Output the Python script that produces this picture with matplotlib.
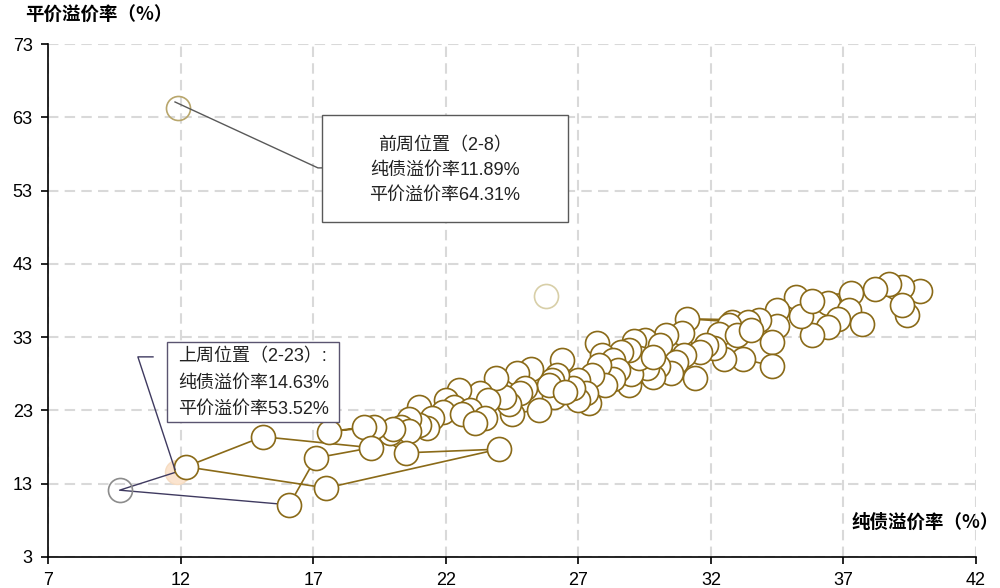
import matplotlib
matplotlib.use('Agg')
import matplotlib.pyplot as plt
from matplotlib.patches import Rectangle

plt.rcParams['font.family'] = ['Liberation Sans', 'Noto Sans CJK SC', 'DejaVu Sans']

# time path of (pure bond premium, parity premium), oldest -> newest
bond_prem = [39.9, 39.2, 38.7, 39.4, 39.2, 38.2, 37.3, 35.2, 36.4, 37.2,
             37.7, 36.8, 36.4, 35.8, 35.4, 35.8, 34.5, 34.5, 33.8, 31.1,
             32.8, 33.4, 32.7, 32.3, 33.0, 33.5, 34.3, 34.3, 33.2, 32.5,
             32.1, 31.8, 31.6, 30.9, 30.3, 29.5, 29.1, 30.1, 31.0, 30.7,
             31.4, 28.9, 30.5, 30.0, 29.8, 29.6, 29.0, 29.3, 29.8, 28.9,
             28.6, 27.7, 27.9, 28.3, 28.5, 28.3, 27.8, 28.0, 27.5, 27.0,
             27.4, 27.3, 27.0, 26.8, 26.4, 26.2, 26.0, 26.1, 25.9, 26.5,
             25.2, 24.7, 25.0, 24.8, 25.5, 24.5, 24.4, 24.2, 23.9, 23.3,
             23.6, 22.5, 22.0, 22.3, 22.9, 21.9, 22.6, 23.5, 23.1, 21.0,
             21.5, 21.3, 21.0, 20.6, 20.3, 20.6, 19.9, 20.0, 19.3, 17.6,
             18.9, 20.5, 24.0, 17.5, 12.2, 15.1, 19.2, 17.1, 16.1]
parity_prem = [39.3, 39.8, 40.2, 36.0, 37.4, 39.6, 39.0, 38.5, 37.7, 36.7,
               34.8, 35.5, 34.4, 33.3, 35.9, 37.9, 36.7, 34.5, 35.3, 35.5,
               35.1, 35.0, 34.6, 33.4, 33.3, 34.0, 32.3, 29.1, 30.0, 30.0,
               31.5, 31.9, 31.0, 33.6, 33.3, 32.6, 32.5, 31.9, 30.5, 29.6,
               27.4, 26.5, 28.1, 29.0, 27.6, 28.8, 28.0, 30.1, 30.3, 31.2,
               31.0, 32.2, 30.6, 29.9, 28.5, 27.3, 29.2, 26.5, 27.8, 27.1,
               24.0, 25.3, 24.4, 26.0, 29.9, 27.8, 27.2, 24.8, 26.5, 25.5,
               28.6, 28.1, 26.0, 25.3, 23.1, 22.5, 23.9, 24.8, 27.4, 25.4,
               24.4, 25.8, 24.4, 23.5, 23.0, 22.8, 22.5, 22.0, 21.3, 23.5,
               22.0, 20.6, 21.0, 21.8, 20.7, 20.2, 19.9, 20.4, 20.7, 20.1,
               20.7, 17.2, 17.7, 12.4, 15.3, 19.4, 17.9, 16.5, 10.1]

prev_week = (11.86, 14.6)      # 上周位置
week_before = (11.89, 64.31)   # 前周位置
latest = (9.7, 12.1)
faded_pt = (25.8, 38.6)

xticks = [7, 12, 17, 22, 27, 32, 37, 42]
yticks = [3, 13, 23, 33, 43, 53, 63, 73]

fig = plt.figure(figsize=(10, 5.88), dpi=100)
ax = fig.add_axes([0.048, 0.053, 0.928, 0.872])

ax.set_xlim(7, 42)
ax.set_ylim(3, 73)
ax.set_xticks(xticks)
ax.set_yticks(yticks)
ax.grid(True, color='#d9d9d9', linestyle=(0, (5, 3)), linewidth=1.5)
ax.set_axisbelow(True)
for s in ['top', 'right']:
    ax.spines[s].set_visible(False)
for s in ['left', 'bottom']:
    ax.spines[s].set_linewidth(1.2)
ax.tick_params(direction='out', length=5, width=1.2, labelsize=13, pad=6)

gold = '#8a6a18'

# special points
ax.plot(*week_before, 'o', ms=17.3, mfc='none', mec='#b8a66c', mew=1.2, zorder=3)
ax.plot(*faded_pt, 'o', ms=17.3, mfc='none', mec='#d8cfa8', mew=1.2, zorder=3)
ax.plot(*prev_week, 'o', ms=17.3, mfc='#fbe4cf', mec='#f6dcc2', mew=1.0, zorder=3)

# latest segment
ax.plot([prev_week[0], latest[0], bond_prem[-1]], [prev_week[1], latest[1], parity_prem[-1]],
        '-', color='#3f3a60', lw=1.0, zorder=3)
ax.plot(*latest, 'o', ms=17.3, mfc='none', mec='#8c8c8c', mew=1.2, zorder=4)

# main path
ax.plot(bond_prem, parity_prem, '-o', color=gold, lw=1.2, ms=17.3,
        mfc='white', mec=gold, mew=1.2, zorder=5)

# annotation box 1
ax.plot([11.79, 17.18, 17.45], [65.1, 56.1, 56.1], color='#595959', lw=1.0, zorder=6)
ax.add_patch(Rectangle((17.33, 48.7), 9.27, 14.6, fc='white', ec='#595959', lw=1.0, zorder=6))
for yy, t in zip([59.2, 55.8, 52.4], ['前周位置（2-8）', '纯债溢价率11.89%', '平价溢价率64.31%']):
    ax.text(21.96, yy, t, ha='center', va='center', fontsize=13, color='#222222', zorder=7)

# annotation box 2
ax.plot([10.96, 10.39, 11.79], [30.3, 30.3, 14.9], color='#3f3a60', lw=1.0, zorder=6)
ax.add_patch(Rectangle((11.49, 21.4), 6.48, 10.9, fc='white', ec='#5a5470', lw=1.0, zorder=6))
for yy, t in zip([30.3, 26.7, 23.2], ['上周位置（2-23）:', '纯债溢价率14.63%', '平价溢价率53.52%']):
    ax.text(11.9, yy, t, ha='left', va='center', fontsize=13, color='#222222', zorder=7)

fig.text(0.025, 0.974, '平价溢价率（%）', fontsize=13.3, fontweight='bold',
         family=['Noto Sans CJK SC'], va='center', ha='left')
fig.text(0.852, 0.112, '纯债溢价率（%）', fontsize=13.3, fontweight='bold',
         family=['Noto Sans CJK SC'], va='center', ha='left')

fig.savefig('out.png', dpi=100)
